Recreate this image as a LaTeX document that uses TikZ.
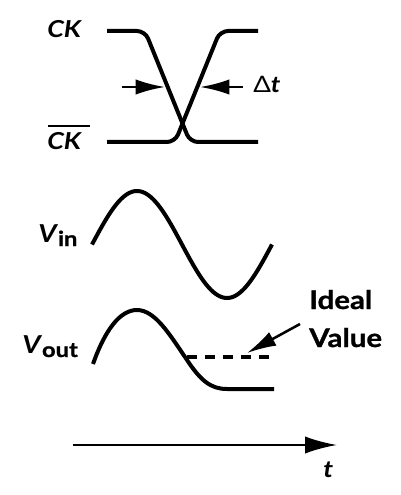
\documentclass[tikz,border=0pt]{standalone}
\usepackage{fontspec}
\setmainfont{Lato}[FakeStretch=1.15,BoldFeatures={FakeBold=1.0}]
\usetikzlibrary{arrows.meta}
\begin{document}
\begin{tikzpicture}[x=0.75pt,y=-0.75pt,
  wave/.style={line width=3pt},
  label/.style={inner sep=0pt,anchor=base west,font=\bfseries},
  tickarrow/.style={line width=1.9pt,-{Latex[length=22pt,width=11.5pt]}},
  axisarrow/.style={line width=1.8pt,-{Latex[length=24pt,width=13pt]}}]
\useasboundingbox (0,0) rectangle (400,495);
% clock waveforms
\draw[wave,rounded corners=6pt] (107,31) -- (145,31) -- (190,142) -- (258,142);
\draw[wave,rounded corners=6pt] (107,142) -- (175,142) -- (220,31) -- (258,31);
\node[label] (ck) at (47,38) {\fontsize{17.5pt}{18pt}\selectfont\itshape CK};
\node[label] (ckb) at (47,150) {\fontsize{17.5pt}{18pt}\selectfont\itshape CK};
\draw[line width=2.2pt] (48,126) -- (90,126);
% delta t arrows
\coordinate (la) at (122,87);
\coordinate (lt) at (165,87);
\coordinate (ra) at (243,87);
\coordinate (rt) at (200,87);
\draw[tickarrow] (la) -- (lt);
\draw[tickarrow] (ra) -- (rt);
\node[label] (dt) at (253,93) {\fontsize{17pt}{18pt}\selectfont\mdseries Δ\bfseries\itshape t};
% Vin
\draw[wave,domain=0:360,samples=90,smooth] plot ({92+\x/2},{244.5-53.5*sin(\x)});
\node[label] (vin) at (38,242) {\fontsize{18.5pt}{20pt}\selectfont\itshape V\kern1pt\raisebox{-3pt}{\fontsize{15.5pt}{16pt}\selectfont\upshape in}};
% Vout
\draw[wave] (93,364) .. controls (105,330) and (120,310) .. (137,310)
  .. controls (155,310) and (170,335) .. (185,357)
  .. controls (200,380) and (210,389) .. (227,389) -- (274,389);
\draw[line width=3pt,dash pattern=on 7.5pt off 6pt] (187,357) -- (274,357);
\node[label] (vout) at (22,353) {\fontsize{18.5pt}{20pt}\selectfont\itshape V\kern1pt\raisebox{-3pt}{\fontsize{15.5pt}{16pt}\selectfont\upshape out}};
% ideal value
\node[label] (ideal) at (309,309) {\fontsize{19.2pt}{20pt}\selectfont Ideal};
\node[label] (value) at (309,347) {\fontsize{19.2pt}{20pt}\selectfont Value};
\coordinate (ia) at (300,324);
\coordinate (it) at (247,353);
\draw[tickarrow] (ia) -- (it);
% time axis
\coordinate (ax0) at (73,445);
\coordinate (ax1) at (337,445);
\draw[axisarrow] (ax0) -- (ax1);
\node[label] (t) at (323,477) {\fontsize{17.5pt}{18pt}\selectfont\itshape t};
\end{tikzpicture}
\end{document}
